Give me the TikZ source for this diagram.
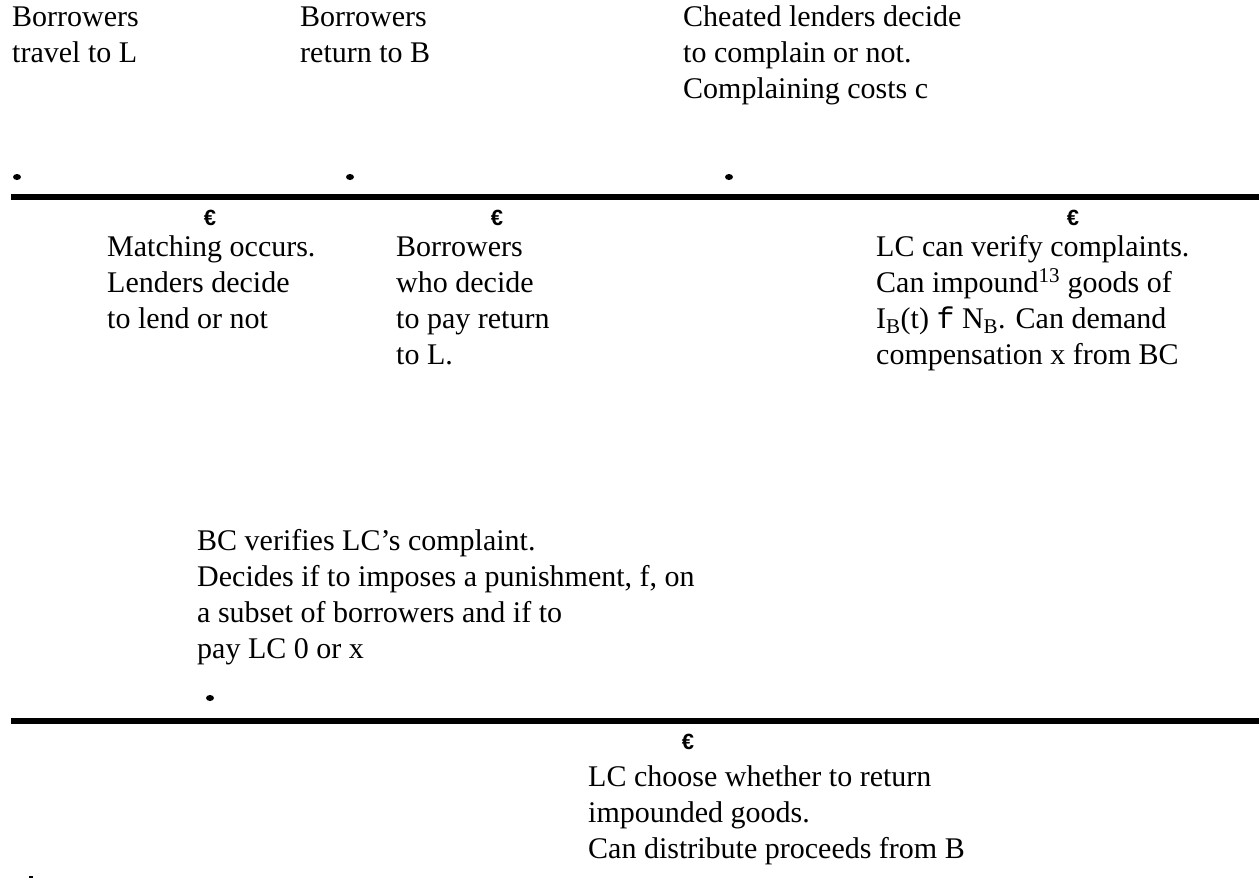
\documentclass[tikz,border=0pt]{standalone}
\usepackage{fontspec}
\setmainfont{Liberation Serif}
\setmonofont{Liberation Mono}
\newfontfamily\eurofont{Liberation Sans}
\begin{document}
\begin{tikzpicture}[x=1pt,y=-1pt,
  event/.style={align=left,anchor=base west,inner sep=0pt,font=\fontsize{30}{36}\selectfont},
  eurosign/.style={inner sep=0pt,font=\eurofont\fontsize{22}{22}\selectfont\bfseries},
  timeline/.style={line width=6pt}]
  \useasboundingbox (0,0) rectangle (1259,879);
  % upper time line
  \coordinate (a1) at (11,197);
  \coordinate (a2) at (1259,197);
  \draw[timeline] (a1) -- (a2);
  \fill (17,177) ellipse (4 and 3);
  \fill (350,177) ellipse (4 and 3);
  \fill (729,177) ellipse (4 and 3);
  % texts are placed by the baseline of their last line
  \node[event] (trav) at (12,62) {Borrowers\\travel to L};
  \node[event] (ret) at (300,62) {Borrowers\\return to B};
  \node[event] (cheat) at (683,98) {Cheated lenders decide\\to complain or not.\\Complaining costs c};
  \node[eurosign] (e1) at (210,218) {€};
  \node[eurosign] (e2) at (497,218) {€};
  \node[eurosign] (e3) at (1073,218) {€};
  \node[event] (match) at (107,328) {Matching occurs.\\Lenders decide\\to lend or not};
  \node[event] (pay) at (396,364) {Borrowers\\who decide\\to pay return\\to L.};
  \node[event] (verif) at (876,364) {LC can verify complaints.\\Can impound\textsuperscript{13} goods of\\I\textsubscript{B}(t) {\ttfamily f} N\textsubscript{B}. Can demand\\compensation x from BC};
  % lower time line
  \node[event] (bc) at (197,658) {BC verifies LC’s complaint.\\Decides if to imposes a punishment, f, on\\a subset of borrowers and if to\\pay LC 0 or x};
  \fill (210,698) ellipse (4 and 3);
  \coordinate (b1) at (11,721);
  \coordinate (b2) at (1259,721);
  \draw[timeline] (b1) -- (b2);
  \node[eurosign] (e4) at (688,742) {€};
  \node[event] (lc) at (588,858) {LC choose whether to return\\impounded goods.\\Can distribute proceeds from B};
  \fill (29,876) rectangle (33,878);
\end{tikzpicture}
\end{document}
